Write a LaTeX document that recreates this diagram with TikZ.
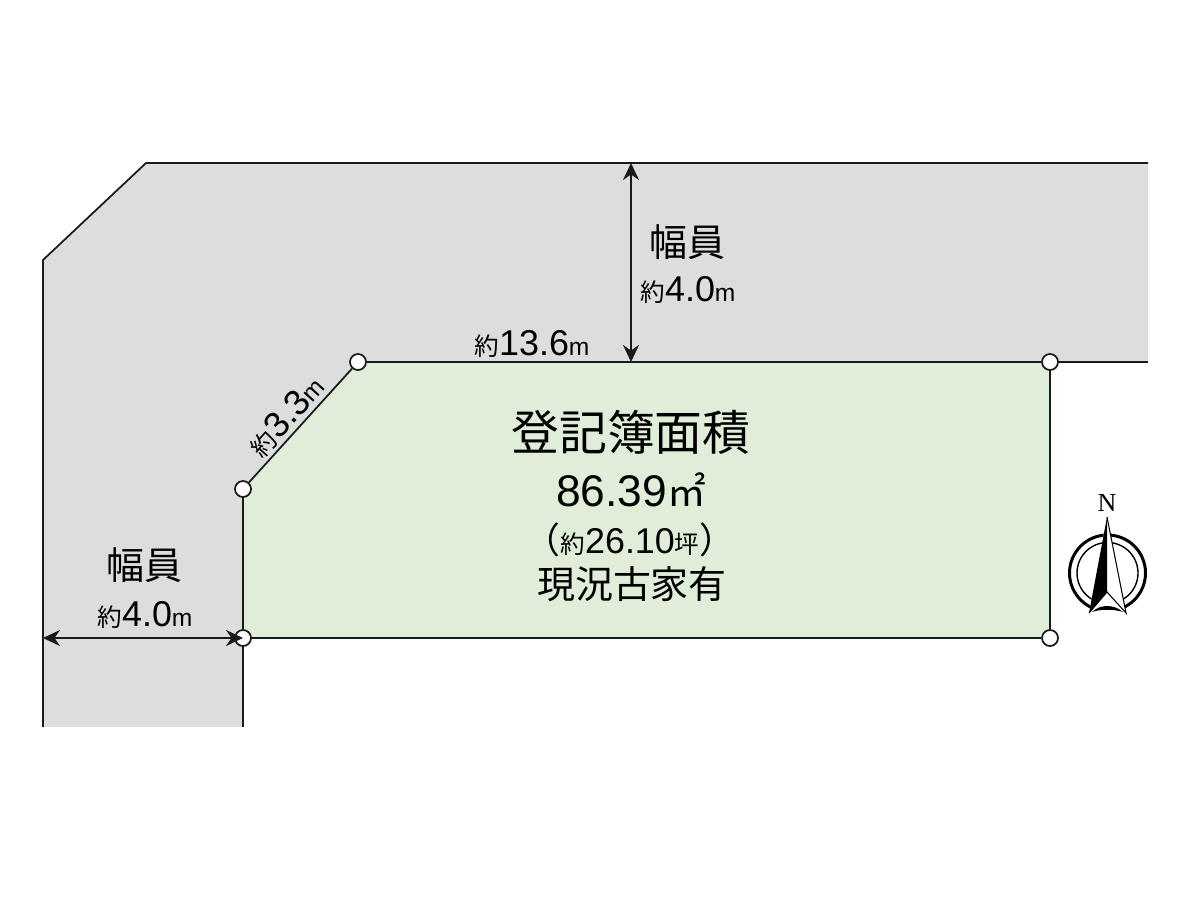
\documentclass[tikz,border=0pt]{standalone}
\usepackage{fontspec}
\setmainfont{Liberation Sans}
\newfontfamily\cjk{Noto Sans CJK JP}
\newfontfamily\serifn{Liberation Serif}
\usepackage{xcolor}
\usetikzlibrary{arrows.meta}
\definecolor{roadgray}{HTML}{DCDDDD}
\definecolor{lotgreen}{HTML}{E0EDD8}
\definecolor{edgeblack}{HTML}{1A1A1A}
\tikzset{
    corner/.style={circle, draw=edgeblack, fill=white, line width=0.5pt, minimum size=0.16cm, inner sep=0pt},
    edge/.style={draw=edgeblack, line width=0.5pt},
    dimline/.style={edgeblack, line width=0.5pt, {Stealth[length=0.17cm,width=0.16cm]}-{Stealth[length=0.17cm,width=0.16cm]}},
    bigtext/.style={inner sep=0pt, font=\fontsize{13.6pt}{15pt}\selectfont},
    numtext/.style={inner sep=0pt, font=\fontsize{12.6pt}{15pt}\selectfont},
    midtext/.style={inner sep=0pt, font=\fontsize{10.8pt}{13pt}\selectfont},
    dimtext/.style={inner sep=0pt, font=\fontsize{10.2pt}{13pt}\selectfont}
}
\newcommand{\yaku}{{\cjk\fontsize{7pt}{9pt}\selectfont 約}}
\newcommand{\metre}{{\fontsize{7pt}{9pt}\selectfont m}}
\begin{document}
\begin{tikzpicture}[x=0.01cm, y=-0.01cm]
            \useasboundingbox (0,0) rectangle (1200,900);
            \fill[white] (0,0) rectangle (1200,900);
            \fill[roadgray] (146,163) -- (1148,163) -- (1148,362) -- (358,362) -- (243,489) -- (243,727) -- (43,727) -- (43,260) -- cycle;
            \fill[lotgreen] (358,362) -- (1050,362) -- (1050,638) -- (243,638) -- (243,489) -- cycle;
            \draw[edge] (1148,163) -- (146,163) -- (43,260) -- (43,727);
            \draw[edge] (243,638) -- (243,727);

            \node[corner] (nw) at (358,362) {};
            \node[corner] (ne) at (1050,362) {};
            \node[corner] (se) at (1050,638) {};
            \node[corner] (sw) at (243,638) {};
            \node[corner] (w) at (243,489) {};
            \coordinate (roadend) at (1148,362);
            \coordinate (topedge) at (631,163);
            \coordinate (topfoot) at (631,362);
            \coordinate (leftedge) at (43,638);

            \draw[edge] (nw) -- (ne);
            \draw[edge] (ne) -- (roadend);
            \draw[edge] (ne) -- (se);
            \draw[edge] (se) -- (sw);
            \draw[edge] (sw) -- (w);
            \draw[edge] (w) -- (nw);
            \draw[dimline] (topedge) -- (topfoot);
            \draw[dimline] (leftedge) -- (sw.center);

            \node[midtext] (widthtop) at (687,242) {\cjk 幅員};
            \node[dimtext] (widthtopval) at (688,290) {\yaku 4.0\metre};
            \node[midtext] (widthleft) at (144,565) {\cjk 幅員};
            \node[dimtext] (widthleftval) at (145,615) {\yaku 4.0\metre};
            \node[dimtext] (northlen) at (532,344) {\yaku 13.6\metre};
            \node[dimtext, rotate=48] (diaglen) at (286,416) {\yaku 3.3\metre};

            \node[bigtext] (areatitle) at (631,432) {\cjk 登記簿面積};
            \node[numtext] (areaval) at (631,490) {86.39{\cjk\fontsize{11pt}{13pt}\selectfont ㎡}};
            \node[dimtext] (areatsubo) at (630,540) {{\cjk （}\yaku 26.10{\cjk\fontsize{7pt}{9pt}\selectfont 坪}{\cjk ）}};
            \node[midtext] (status) at (632,584) {\cjk 現況古家有};

            \node[inner sep=0pt, font=\fontsize{7.4pt}{9pt}\serifn] (north) at (1107,503) {N};
            \draw[black, line width=0.85pt] (1107.5,573) circle (38);
            \draw[black, line width=0.4pt] (1107.5,573) circle (30.5);
            \fill[white] (1107,517) -- (1089,613) -- (1126,613) -- cycle;
            \fill[black] (1107,517) -- (1089,613) -- (1107,592) -- cycle;
            \draw[black, line width=0.3pt] (1107,517) -- (1126,613) -- (1107,592) -- (1089,613);
            \fill[black] (1092,612) .. controls (1100,604) and (1114,604) .. (1123,612) .. controls (1114,609) and (1100,609) .. cycle;
        \end{tikzpicture}
\end{document}
